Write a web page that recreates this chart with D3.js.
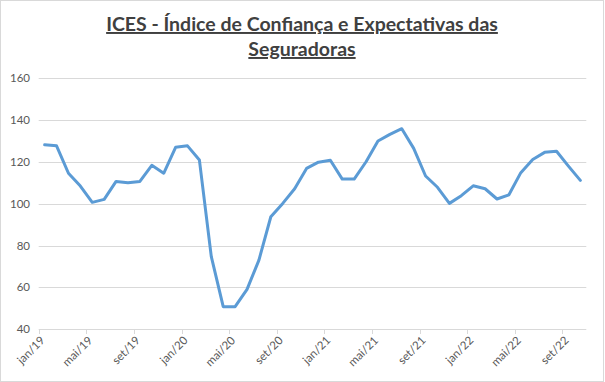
<!DOCTYPE html>
<html>
<head>
<meta charset="utf-8">
<script src="https://cdn.jsdelivr.net/npm/d3@7"></script>
<style>
  body { margin: 0; background: #fff; }
  svg { display: block; }
</style>
</head>
<body>
<svg width="605" height="382"></svg>
<script>
// ICES monthly values, jan/19 .. out/22
var months = ["jan","fev","mar","abr","mai","jun","jul","ago","set","out","nov","dez"]
var startYear = 19
var values = [
  128.2, 127.7, 114.6, 108.5, 100.7, 102.1, 110.7, 110.1, 110.7, 118.4, 114.6, 127.0,
  127.7, 120.9, 74.7, 50.8, 50.8, 59.1, 73.1, 93.8, 100.2, 107.2, 116.9, 119.9,
  120.8, 111.8, 111.8, 120.1, 130.0, 133.2, 135.9, 126.5, 113.3, 107.9, 100.2, 103.9,
  108.6, 107.2, 102.3, 104.3, 114.9, 121.2, 124.6, 125.1, 118.0, 111.2
]
var yTicks = [40, 60, 80, 100, 120, 140, 160]
var titleLines = ["ICES - Índice de Confiança e Expectativas das", "Seguradoras"]

var labels = values.map(function(v, i) {
  return months[i % 12] + "/" + (startYear + Math.floor(i / 12))
})

var svg = d3.select("svg"),
	width = +svg.attr("width"),
	height = +svg.attr("height")

// plot area (don't call it "top", window.top is taken)
var plot = { left: 38.7, right: 586.3, top: 78.3, bottom: 329.3 }

// chart area border
svg.append("rect")
	.attr("x", 0.5).attr("y", 0.5)
	.attr("width", width - 2).attr("height", height - 1)
	.style("fill", "#fff")
	.style("stroke", "#d9d9d9")

var x = d3.scaleLinear().domain([0, values.length]).range([plot.left, plot.right])
var y = d3.scaleLinear().domain([40, 160]).range([plot.bottom, plot.top])

// gridlines
svg.append("g").selectAll("line")
	.data(yTicks.filter(function(d) { return d > 40 }))
	.enter().append("line")
	.attr("x1", plot.left).attr("x2", plot.right)
	.attr("y1", function(d) { return Math.round(y(d)) + 0.5 })
	.attr("y2", function(d) { return Math.round(y(d)) + 0.5 })
	.style("stroke", "#d9d9d9")

// y labels
svg.append("g").selectAll("text")
	.data(yTicks)
	.enter().append("text")
	.attr("x", 30)
	.attr("y", function(d) { return y(d) + 4 })
	.attr("text-anchor", "end")
	.style("font-family", "Lato, 'Open Sans', sans-serif")
	.style("font-size", "11.5px")
	.style("fill", "#595959")
	.text(function(d) { return d })

// x axis
var tickIdx = d3.range(0, values.length, 4)
var xAxis = svg.append("g")
xAxis.append("line")
	.attr("x1", plot.left).attr("x2", plot.right)
	.attr("y1", Math.round(plot.bottom) + 0.5).attr("y2", Math.round(plot.bottom) + 0.5)
	.style("stroke", "#d9d9d9")
xAxis.selectAll(".tick")
	.data(tickIdx)
	.enter().append("line")
	.attr("x1", function(d) { return Math.round(x(d)) + 0.5 })
	.attr("x2", function(d) { return Math.round(x(d)) + 0.5 })
	.attr("y1", Math.round(plot.bottom)).attr("y2", Math.round(plot.bottom) + 5)
	.style("stroke", "#d9d9d9")
xAxis.selectAll("text")
	.data(tickIdx)
	.enter().append("text")
	.attr("transform", function(d) { return "translate(" + (x(d) + 4) + "," + (plot.bottom + 9) + ") rotate(-45)" })
	.attr("text-anchor", "end")
	.attr("dy", "0.35em")
	.style("font-family", "Lato, 'Open Sans', sans-serif")
	.style("font-size", "11.5px")
	.style("fill", "#595959")
	.text(function(d) { return labels[d] })

// series
var line = d3.line()
	.x(function(d, i) { return x(i + 0.5) })
	.y(function(d) { return y(d) })

svg.append("path")
	.datum(values)
	.attr("d", line)
	.style("fill", "none")
	.style("stroke", "#5b9bd5")
	.style("stroke-width", 3)
	.style("stroke-linejoin", "round")
	.style("stroke-linecap", "round")

// title
svg.append("g").selectAll("text")
	.data(titleLines)
	.enter().append("text")
	.attr("x", 302)
	.attr("y", function(d, i) { return 31 + i * 25 })
	.attr("text-anchor", "middle")
	.style("font-family", "Lato, 'Open Sans', sans-serif")
	.style("font-weight", "bold")
	.style("font-size", "19.5px")
	.style("fill", "#404040")
	.style("text-decoration", "underline")
	.text(function(d) { return d })
</script>
</body>
</html>
